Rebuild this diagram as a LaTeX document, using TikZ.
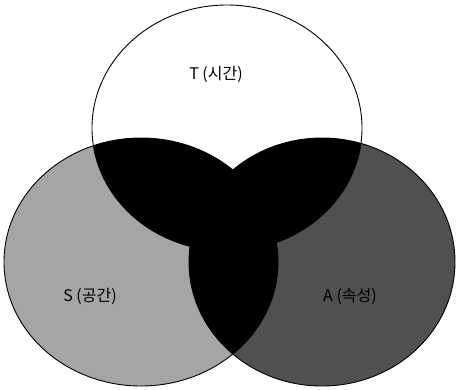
\documentclass[tikz,border=0pt]{standalone}
\usepackage{fontspec}
\newfontfamily\kofont{Noto Sans CJK KR}
\definecolor{spaceGray}{RGB}{165,165,165}
\definecolor{attrGray}{RGB}{80,80,80}
\usetikzlibrary{positioning}

% the three sets
\newcommand{\Tcirc}{(227,128) ellipse [x radius=135, y radius=123]}
\newcommand{\Scirc}{(141,262) ellipse [x radius=137, y radius=124]}
\newcommand{\Acirc}{(322,262) ellipse [x radius=133, y radius=124]}

\begin{document}
\begin{tikzpicture}[x=1pt, y=-1pt]
    \useasboundingbox (0,0) rectangle (457,389);
    \tikzset{setlabel/.style={font=\kofont\fontsize{16}{19}\selectfont, text=black}}

    % single regions
    \fill[spaceGray] \Scirc;
    \fill[attrGray] \Acirc;
    \fill[white] \Tcirc;

    % pairwise overlaps
    \begin{scope}
        \clip \Scirc;
        \fill[black] \Tcirc;
        \fill[black] \Acirc;
    \end{scope}
    \begin{scope}
        \clip \Tcirc;
        \fill[black] \Acirc;
    \end{scope}

    % outlines
    \draw[line width=0.9pt] \Tcirc;
    \draw[line width=0.9pt] \Scirc;
    \draw[line width=0.9pt] \Acirc;

    % labels
    \node[setlabel] (tlabel) at (216,74) {T (시간)};
    \node[setlabel] (slabel) at (90,296) {S (공간)};
    \node[setlabel] (alabel) at (350,296) {A (속성)};
\end{tikzpicture}
\end{document}
